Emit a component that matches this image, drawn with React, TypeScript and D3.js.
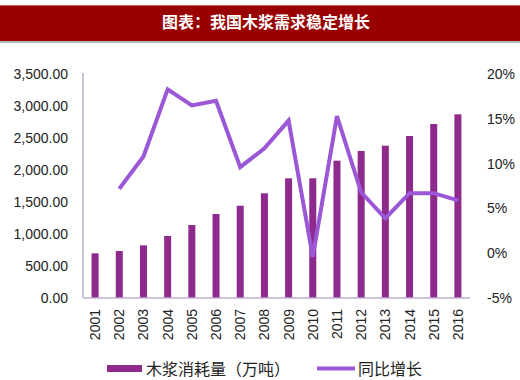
import React from "react";
import * as d3 from "d3";

const years = ["2001","2002","2003","2004","2005","2006","2007","2008","2009","2010","2011","2012","2013","2014","2015","2016"];
const consumption = [698, 734, 823, 969, 1141, 1312, 1442, 1636, 1870, 1870, 2146, 2297, 2380, 2531, 2719, 2870];
const growth: (number | null)[] = [null, 7.2, 10.8, 18.3, 16.5, 17.0, 9.6, 11.7, 14.8, -0.4, 15.3, 6.8, 3.9, 6.7, 6.7, 5.9];
const leftTicks = [0, 500, 1000, 1500, 2000, 2500, 3000, 3500];
const rightTicks = [-5, 0, 5, 10, 15, 20];
const title = "图表：我国木浆需求稳定增长";
const barLabel = "木浆消耗量（万吨）";
const lineLabel = "同比增长";

export default function App() {
  const W = 520, H = 380;
  const left = 83, right = 470, top = 74, bottom = 298;
  const x = d3.scaleBand<string>().domain(years).range([left, right]).paddingInner(0.71).paddingOuter(0.355);
  const yL = d3.scaleLinear().domain([0, 3500]).range([bottom, top]);
  const yR = d3.scaleLinear().domain([-5, 20]).range([bottom, top]);
  const cx = (y: string) => (x(y) as number) + x.bandwidth() / 2;
  const line = d3.line<[string, number | null]>()
    .defined(d => d[1] !== null)
    .x(d => cx(d[0]))
    .y(d => yR(d[1] as number));
  const pts = years.map((y, i) => [y, growth[i]] as [string, number | null]);
  const fmt = d3.format(",.2f");
  const font = "'Liberation Sans', Arial, sans-serif";
  const cjk = "'Noto Sans CJK SC', sans-serif";
  const barColor = "#8E2A8C";
  const lineColor = "#9B57D6";
  const axisColor = "#BFAFCF";
  return (
    <svg width={W} height={H} style={{ position: "absolute", left: 0, top: 0, background: "#fff" }}>
      <rect x={0} y={5} width={W} height={36} fill="#990000" />
      <line x1={0} x2={W} y1={5.5} y2={5.5} stroke="#C86060" strokeWidth={1} />
      <line x1={0} x2={W} y1={42} y2={42} stroke="#A0A0A0" strokeWidth={1.5} />
      <text x={W / 2 + 6} y={24} textAnchor="middle" dominantBaseline="middle" fill="#fff" fontFamily={cjk} fontWeight="bold" fontSize={16}>{title}</text>

      {leftTicks.map(t => (
        <text key={"l" + t} x={68} y={yL(t)} dy="0.35em" textAnchor="end" fontFamily={font} fontSize={14} fill="#222">{fmt(t)}</text>
      ))}
      {rightTicks.map(t => (
        <text key={"r" + t} x={487} y={yR(t)} dy="0.35em" textAnchor="start" fontFamily={font} fontSize={14} fill="#222">{t + "%"}</text>
      ))}

      {years.map((y, i) => (
        <rect key={"b" + y} x={x(y)} y={yL(consumption[i])} width={x.bandwidth()} height={bottom - yL(consumption[i])} fill={barColor} />
      ))}

      <line x1={left} x2={left} y1={top - 1} y2={bottom} stroke={axisColor} strokeWidth={1.5} />
      <line x1={left} x2={right} y1={bottom} y2={bottom} stroke={axisColor} strokeWidth={1.5} />

      <path d={line(pts) || ""} fill="none" stroke={lineColor} strokeWidth={4} strokeLinejoin="miter" />

      {years.map(y => (
        <text key={"x" + y} transform={`translate(${cx(y) + 5},${309}) rotate(-90)`} textAnchor="end" fontFamily={font} fontSize={14} fill="#222">{y}</text>
      ))}

      <rect x={107} y={365} width={35} height={7} fill={barColor} />
      <text x={146} y={369} dy="0.35em" fontFamily={cjk} fontSize={16} fill="#222">{barLabel}</text>
      <line x1={317} x2={355} y1={368.5} y2={368.5} stroke={lineColor} strokeWidth={4} />
      <text x={358} y={369} dy="0.35em" fontFamily={cjk} fontSize={16} fill="#222">{lineLabel}</text>
    </svg>
  );
}
